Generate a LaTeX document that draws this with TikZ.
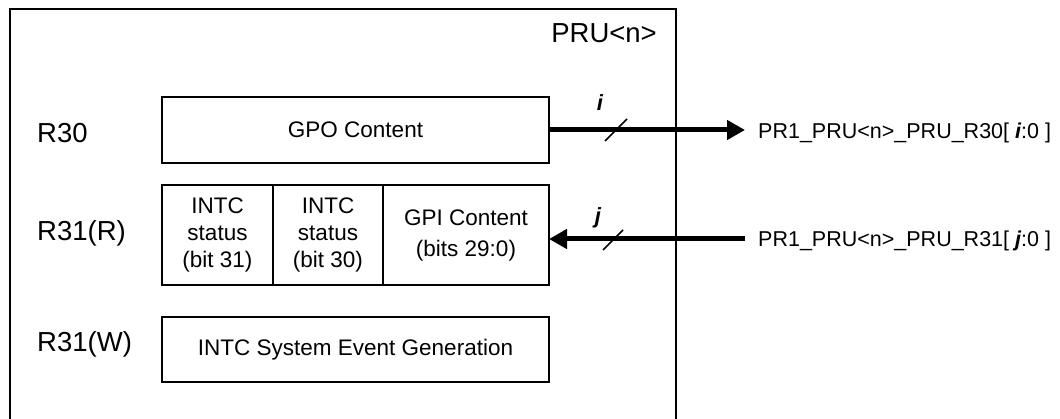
\documentclass[tikz,border=0pt]{standalone}
\usepackage{fontspec}
\setmainfont{Liberation Sans}
\usetikzlibrary{arrows.meta}
\usetikzlibrary{calc}
\usetikzlibrary{positioning}

\begin{document}
\begin{tikzpicture}[x=1pt,y=-1pt,node distance=0pt]
	\tikzstyle{reg}=[draw, line width=1.6pt, inner sep=0pt, outer sep=0pt, align=center, font=\fontsize{22.5}{27}\selectfont]
	\tikzstyle{lbl}=[anchor=base west, inner sep=0pt, font=\fontsize{27.5}{33}\selectfont]
	\tikzstyle{sig}=[anchor=base west, inner sep=0pt, font=\fontsize{21.5}{26}\selectfont]
	\tikzstyle{bus}=[line width=5pt, -{Triangle[length=18pt,width=19pt]}]
	\tikzstyle{tick}=[line width=1.5pt]
	\tikzstyle{buswidth}=[inner sep=0pt, font=\fontsize{22}{26}\selectfont\bfseries\itshape]
	\useasboundingbox (0,0) rectangle (1060,419);
	% PRU frame, open at the bottom
	\draw[line width=1.6pt] (10,425) -- (10,9) -- (676,9) -- (676,425);
	\node[lbl, anchor=base east] (pru) at (657,43) {PRU<n>};
	% register contents
	\node[reg, minimum width=387pt, minimum height=66pt] (gpo) at (355.5,130) {GPO Content};
	\node[reg, minimum width=111pt, minimum height=100pt] (st31) at (217.5,235) {INTC\\status\\(bit 31)};
	\node[reg, minimum width=110pt, minimum height=100pt] (st30) [right=of st31] {INTC\\status\\(bit 30)};
	\node[reg, minimum width=166pt, minimum height=100pt, font=\fontsize{22.5}{31}\selectfont] (gpi) [right=of st30] {GPI Content\\(bits 29:0)};
	\node[reg, minimum width=387pt, minimum height=65pt] (evt) at (355.5,349.5) {INTC System Event Generation};
	% register names
	\node[lbl] (r30) at (37,143) {R30};
	\node[lbl] (r31r) at (37,241) {R31(R)};
	\node[lbl] (r31w) at (37,352) {R31(W)};
	% signals
	\node[sig] (r30sig) at (758,139) {PR1\_PRU<n>\_PRU\_R30[ {\bfseries\itshape i}:0 ]};
	\node[sig] (r31sig) at (758,247) {PR1\_PRU<n>\_PRU\_R31[ {\bfseries\itshape j}:0 ]};
	\draw[bus, shorten >=13pt] (gpo.east) -- (gpo.east -| r30sig.west);
	\draw[tick] ([xshift=56pt,yshift=-11pt]gpo.east) -- ++(22,-22);
	\node[buswidth] (iw) at (600,103) {i};
	\draw[bus, shorten <=13pt] ([yshift=-4pt]gpi.east -| r31sig.west) -- ([yshift=-4pt]gpi.east);
	\draw[tick] ([xshift=54pt,yshift=-15pt]gpi.east) -- ++(20,-20);
	\node[buswidth] (jw) at (598,218) {j};
\end{tikzpicture}
\end{document}
